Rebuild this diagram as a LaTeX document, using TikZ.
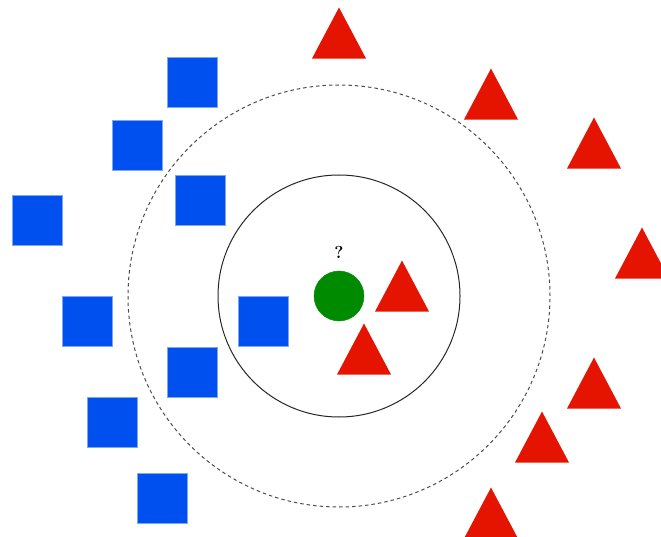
\documentclass[tikz,border=0pt]{standalone}
\usepackage{tikz}
\usetikzlibrary{shapes.geometric}

\definecolor{sqblue}{HTML}{0050EF}
\definecolor{sqedge}{HTML}{7FA6F5}
\definecolor{trired}{HTML}{E51400}
\definecolor{dotgreen}{HTML}{008A00}

\tikzset{
  sqnode/.style={draw=sqedge, fill=sqblue, minimum size=50pt, inner sep=0pt, line width=0.8pt},
  trinode/.style={isosceles triangle, isosceles triangle stretches, shape border rotate=90,
    fill=trired, minimum width=54pt, minimum height=51pt, inner sep=0pt, anchor=apex},
  query/.style={circle, fill=dotgreen, draw=dotgreen, minimum size=50pt, inner sep=0pt}
}

\begin{document}
\begin{tikzpicture}[x=1pt, y=-1pt]
  \useasboundingbox (0,0) rectangle (661,537);

  % neighbourhoods round the query point
  \node[circle, draw=black!85, line width=1pt, minimum size=242pt, inner sep=0pt] (near) at (339,296) {};
  \node[circle, draw=black!70, dashed, dash pattern=on 3.5pt off 3pt, line width=1pt, minimum size=422pt, inner sep=0pt] (far) at (339,296) {};

  % query point
  \node[query] (q) at (339,296) {};
  \node[text=black] (qmark) at (339,252) {\LARGE\bfseries ?};

  % class A
  \node[sqnode] (a1) at (192.5,82) {};
  \node[sqnode] (a2) at (137.5,145) {};
  \node[sqnode] (a3) at (200.5,200) {};
  \node[sqnode] (a4) at (37,220.5) {};
  \node[sqnode] (a5) at (87,321.5) {};
  \node[sqnode] (a6) at (263.5,321) {};
  \node[sqnode] (a7) at (192.5,372) {};
  \node[sqnode] (a8) at (112.5,422.5) {};
  \node[sqnode] (a9) at (162.5,498) {};

  % class B
  \node[trinode] (b1) at (339,7) {};
  \node[trinode] (b2) at (491,68) {};
  \node[trinode] (b3) at (594,117) {};
  \node[trinode] (b4) at (642,227) {};
  \node[trinode] (b5) at (402,260) {};
  \node[trinode] (b6) at (364,323) {};
  \node[trinode] (b7) at (594,357) {};
  \node[trinode] (b8) at (542,411) {};
  \node[trinode] (b9) at (491,487) {};
\end{tikzpicture}
\end{document}
